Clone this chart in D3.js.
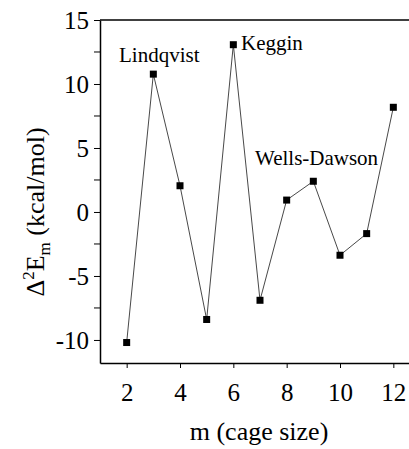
<!DOCTYPE html>
<html>
<head>
<meta charset="utf-8">
<script src="https://cdn.jsdelivr.net/npm/d3@7"></script>
</head>
<body style="margin:0">
<svg id="chart" width="409" height="449"></svg>
<script>
// cage size vs second difference of energy
var cageSize = [2, 3, 4, 5, 6, 7, 8, 9, 10, 11, 12];
var deltaE = [-10.2, 10.77, 2.05, -8.4, 13.07, -6.9, 0.93, 2.4, -3.38, -1.69, 8.18];
var xTicks = [2, 4, 6, 8, 10, 12];
var yTicks = [-10, -5, 0, 5, 10, 15];
var yMinorTicks = [-7.5, -2.5, 2.5, 7.5, 12.5];
var labels = ["Lindqvist", "Keggin", "Wells-Dawson"];

var serif = "Liberation Serif";

var svg = d3.select("#chart");

var plotLeft = 100, plotTop = 20, plotBottom = 363, plotRight = 420;

var xScale = d3.scaleLinear().domain([1, 13]).range([plotLeft, plotRight]);
var yScale = d3.scaleLinear().domain([-11.8, 15]).range([plotBottom, plotTop]);

// frame
svg.append("line")
    .attr("x1", plotLeft).attr("x2", plotRight)
    .attr("y1", plotTop).attr("y2", plotTop)
    .attr("stroke", "#000").attr("stroke-width", 1.5);

var xAxis = d3.axisBottom(xScale).tickValues(xTicks).tickSize(5).tickSizeOuter(0)
    .tickFormat(function(d) { return String(d); });
var gx = svg.append("g")
    .attr("transform", "translate(0," + plotBottom + ")")
    .call(xAxis)
    .attr("font-family", serif);
gx.select(".domain").attr("stroke-width", 1.5);
gx.selectAll("text")
    .attr("font-family", serif)
    .attr("font-size", 25)
    .attr("dy", "0")
    .attr("y", 38);

var yAxis = d3.axisLeft(yScale).tickValues(yTicks).tickSize(6).tickSizeOuter(0)
    .tickFormat(function(d) { return String(d); });
var gy = svg.append("g")
    .attr("transform", "translate(" + plotLeft + ",0)")
    .call(yAxis)
    .attr("font-family", serif);
gy.select(".domain").attr("stroke-width", 1.5);
gy.selectAll("text")
    .attr("font-family", serif)
    .attr("font-size", 25)
    .attr("x", -11)
    .attr("dy", "0.34em");

// minor ticks
gy.selectAll(".minor")
    .data(yMinorTicks)
    .enter().append("line")
    .attr("class", "minor")
    .attr("x1", -6).attr("x2", 0)
    .attr("y1", function(d) { return yScale(d); })
    .attr("y2", function(d) { return yScale(d); })
    .attr("stroke", "#000");

// data line
var line = d3.line()
    .x(function(d, i) { return xScale(cageSize[i]); })
    .y(function(d) { return yScale(d); });

svg.append("path")
    .datum(deltaE)
    .attr("d", line)
    .attr("fill", "none")
    .attr("stroke", "#333")
    .attr("stroke-width", 0.9);

svg.selectAll(".pt")
    .data(deltaE)
    .enter().append("rect")
    .attr("class", "pt")
    .attr("x", function(d, i) { return xScale(cageSize[i]) - 3.5; })
    .attr("y", function(d) { return yScale(d) - 3.5; })
    .attr("width", 7)
    .attr("height", 7)
    .attr("fill", "#000");

// annotations
svg.append("text")
    .attr("x", 119).attr("y", 62)
    .attr("font-family", serif)
    .attr("font-size", 21)
    .text(labels[0]);

svg.append("text")
    .attr("x", 241).attr("y", 50)
    .attr("font-family", serif)
    .attr("font-size", 21)
    .text(labels[1]);

svg.append("text")
    .attr("x", 255).attr("y", 165)
    .attr("font-family", serif)
    .attr("font-size", 21)
    .text(labels[2]);

// axis titles
svg.append("text")
    .attr("x", 259).attr("y", 440)
    .attr("text-anchor", "middle")
    .attr("font-family", serif)
    .attr("font-size", 26)
    .text("m (cage size)");

var yTitle = svg.append("text")
    .attr("transform", "translate(44,212) rotate(-90)")
    .attr("text-anchor", "middle")
    .attr("font-family", serif)
    .attr("font-size", 26);
yTitle.append("tspan").text("\u0394");
yTitle.append("tspan").attr("font-size", 17).attr("dy", "-10").text("2");
yTitle.append("tspan").attr("dy", "10").text("E");
yTitle.append("tspan").attr("font-size", 17).attr("dy", "6").text("m");
yTitle.append("tspan").attr("dy", "-6").text(" (kcal/mol)");
</script>
</body>
</html>
